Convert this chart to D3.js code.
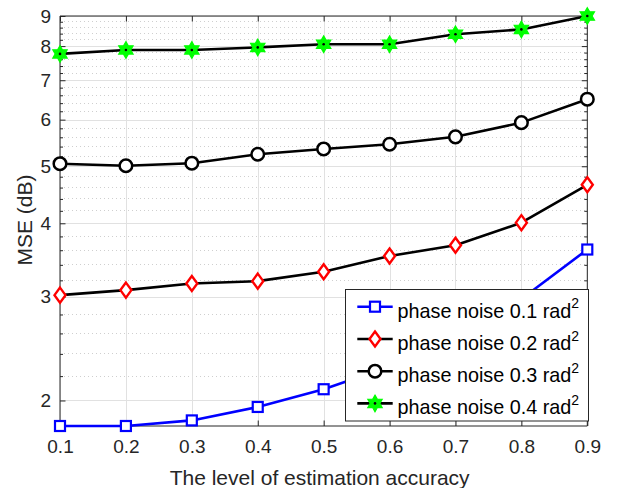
<!DOCTYPE html>
<html>
<head>
<meta charset="utf-8">
<script src="https://cdn.jsdelivr.net/npm/d3@7"></script>
<style>
  html, body { margin: 0; padding: 0; background: #fff; }
  svg { display: block; font-family: "Liberation Sans", Arial, Helvetica, sans-serif; }
</style>
</head>
<body>
<svg id="chart" width="619" height="488"></svg>
<script>
// ---- data ----
const xValues = [0.1, 0.2, 0.3, 0.4, 0.5, 0.6, 0.7, 0.8, 0.9];
const pn01 = [1.81, 1.81, 1.85, 1.95, 2.09, 2.285, 2.58, 2.975, 3.61];
const pn02 = [3.02, 3.08, 3.16, 3.19, 3.31, 3.52, 3.67, 4.01, 4.65];
const pn03 = [5.05, 5.01, 5.06, 5.24, 5.35, 5.45, 5.61, 5.93, 6.50];
const pn04 = [7.76, 7.88, 7.88, 7.96, 8.06, 8.06, 8.38, 8.54, 9.00];
const seriesNames = ["phase noise 0.1 rad", "phase noise 0.2 rad", "phase noise 0.3 rad", "phase noise 0.4 rad"];
const xTicks = [0.1, 0.2, 0.3, 0.4, 0.5, 0.6, 0.7, 0.8, 0.9];
const yTicks = [2, 3, 4, 5, 6, 7, 8, 9];
const yMinorTicks = [2.2, 2.4, 2.6, 2.8, 3.2, 3.4, 3.6, 3.8, 4.2, 4.4, 4.6, 4.8,
  5.2, 5.4, 5.6, 5.8, 6.2, 6.4, 6.6, 6.8, 7.2, 7.4, 7.6, 7.8, 8.2, 8.4, 8.6, 8.8];
const xLabel = "The level of estimation accuracy";
const yLabel = "MSE (dB)";

// ---- layout ----
const L = 60, R = 587.3, T = 16, B = 426;
const svg = d3.select("#chart");
const x = d3.scaleLinear().domain([0.1, 0.9]).range([L, R]);
const y = d3.scaleLog().domain([1.81, 9]).range([B, T]);
const axisColor = "#262626";

// grid
const g = svg.append("g");
g.selectAll(".minor").data(yMinorTicks).enter().append("line")
  .attr("x1", L).attr("x2", R).attr("y1", d => y(d)).attr("y2", d => y(d))
  .attr("stroke", "#cfcfcf").attr("stroke-width", 1).attr("stroke-dasharray", "1,3")
  .attr("shape-rendering", "crispEdges");
g.selectAll(".hmaj").data(yTicks).enter().append("line")
  .attr("x1", L).attr("x2", R).attr("y1", d => Math.round(y(d)) + 0.5).attr("y2", d => Math.round(y(d)) + 0.5)
  .attr("stroke", "#e1e1e1").attr("stroke-width", 1);
g.selectAll(".vmaj").data(xTicks).enter().append("line")
  .attr("y1", T).attr("y2", B).attr("x1", d => Math.round(x(d)) + 0.5).attr("x2", d => Math.round(x(d)) + 0.5)
  .attr("stroke", "#e1e1e1").attr("stroke-width", 1);

// axes (ticks inside)
const axB = svg.append("g").attr("transform", `translate(0,${B})`)
  .call(d3.axisBottom(x).tickValues(xTicks).tickSize(-5.5).tickPadding(14).tickFormat(d3.format(".1f")));
const axT = svg.append("g").attr("transform", `translate(0,${T})`)
  .call(d3.axisTop(x).tickValues(xTicks).tickSize(-5.5).tickFormat(""));
const axL = svg.append("g").attr("transform", `translate(${L},0)`)
  .call(d3.axisLeft(y).tickValues(yTicks).tickSize(-5.5).tickPadding(9).tickFormat(d3.format("d")));
const axR = svg.append("g").attr("transform", `translate(${R},0)`)
  .call(d3.axisRight(y).tickValues(yTicks).tickSize(-5.5).tickFormat(""));
const axLm = svg.append("g").attr("transform", `translate(${L},0)`)
  .call(d3.axisLeft(y).tickValues(yMinorTicks).tickSize(-3).tickFormat(""));
const axRm = svg.append("g").attr("transform", `translate(${R},0)`)
  .call(d3.axisRight(y).tickValues(yMinorTicks).tickSize(-3).tickFormat(""));
[axB, axT, axL, axR, axLm, axRm].forEach(a => {
  a.select(".domain").attr("stroke", axisColor).attr("stroke-width", 1);
  a.selectAll(".tick line").attr("stroke", axisColor).attr("stroke-width", 1);
  a.selectAll(".tick text").attr("fill", axisColor).attr("font-size", 19).attr("font-family", "Liberation Sans, Arial, sans-serif");
});
axLm.select(".domain").remove();
axRm.select(".domain").remove();
axT.select(".domain").attr("d", `M${L},0H${R}`);
axR.select(".domain").attr("d", `M0,${B}V${T}`);
axL.select(".domain").attr("d", `M0,${B}V${T}`);
axB.select(".domain").attr("d", `M${L},0H${R}`);

// labels
svg.append("text").attr("x", (L + R) / 2 - 4).attr("y", 485)
  .attr("text-anchor", "middle").attr("font-size", 21).attr("fill", axisColor).text(xLabel);
svg.append("text").attr("transform", `translate(31.5,${220}) rotate(-90)`)
  .attr("text-anchor", "middle").attr("font-size", 21).attr("fill", axisColor).text(yLabel);

// markers
function hexagram(r) {
  const pts = [];
  const ri = r / Math.sqrt(3);
  for (let i = 0; i < 12; i++) {
    const a = i * Math.PI / 6;
    const rr = i % 2 === 0 ? r : ri;
    pts.push([rr * Math.sin(a), -rr * Math.cos(a)]);
  }
  return "M" + pts.map(p => p.join(",")).join("L") + "Z";
}
const markerDefs = [
  { draw: (s) => s.append("rect").attr("x", -5).attr("y", -5).attr("width", 10).attr("height", 10)
      .attr("fill", "#fff").attr("stroke", "#0000ff").attr("stroke-width", 2.2) },
  { draw: (s) => s.append("path").attr("d", "M0,-7.5L5.5,0L0,7.5L-5.5,0Z")
      .attr("fill", "#fff").attr("stroke", "#ff0000").attr("stroke-width", 2.4) },
  { draw: (s) => s.append("circle").attr("r", 6.3)
      .attr("fill", "#fff").attr("stroke", "#000").attr("stroke-width", 2.5) },
  { draw: (s) => { s.append("path").attr("d", hexagram(8.3)).attr("fill", "#00ff00").attr("stroke", "#00ff00").attr("stroke-width", 1.2).attr("stroke-linejoin", "miter");
      s.append("circle").attr("r", 1.3).attr("fill", "#000"); } }
];
const seriesData = [pn01, pn02, pn03, pn04];
const lineColors = ["#0000ff", "#000", "#000", "#000"];
const line = d3.line().x((d, i) => x(xValues[i])).y(d => y(d));

seriesData.forEach((vals, k) => {
  const sg = svg.append("g");
  sg.append("path").attr("d", line(vals)).attr("fill", "none")
    .attr("stroke", lineColors[k]).attr("stroke-width", 2.6).attr("stroke-linejoin", "round");
  vals.forEach((v, i) => {
    const m = sg.append("g").attr("transform", `translate(${x(xValues[i])},${y(v)})`);
    markerDefs[k].draw(m);
  });
});

// legend
const lg = svg.append("g");
lg.append("rect").attr("x", 345.5).attr("y", 289.5).attr("width", 243).attr("height", 131.5)
  .attr("fill", "#fff").attr("stroke", axisColor).attr("stroke-width", 1);
const rowY = [306.7, 339, 371.2, 403.4];
seriesNames.forEach((name, k) => {
  const ry = rowY[k];
  lg.append("line").attr("x1", 357.3).attr("x2", 392.7).attr("y1", ry).attr("y2", ry)
    .attr("stroke", lineColors[k]).attr("stroke-width", 2.6);
  const m = lg.append("g").attr("transform", `translate(375,${ry})`);
  markerDefs[k].draw(m);
  const t = lg.append("text").attr("x", 397.5).attr("y", ry + 11).attr("font-size", 19.8).attr("fill", "#000");
  t.append("tspan").text(name);
  t.append("tspan").attr("dy", -9.5).attr("font-size", 14).text("2");
});
</script>
</body>
</html>
